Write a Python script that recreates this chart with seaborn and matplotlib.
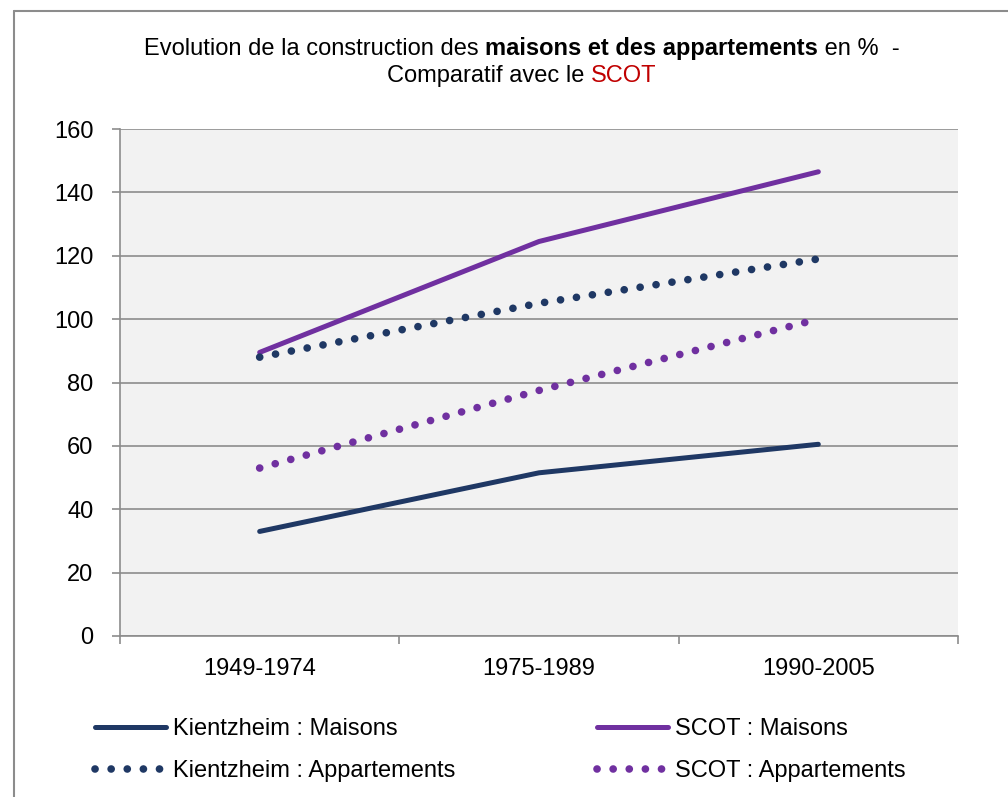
import seaborn as sns
import matplotlib.pyplot as plt
import pandas as pd
from matplotlib.lines import Line2D
from matplotlib.offsetbox import TextArea, HPacker, VPacker, AnchoredOffsetbox

# données
periodes = ['1949-1974', '1975-1989', '1990-2005']
kientzheim_maisons = [33, 51.5, 60.5]
scot_maisons = [89.5, 124.5, 146.5]
kientzheim_appartements = [88, 105, 119]
scot_appartements = [53, 77.5, 100]

series = {
    'Kientzheim : Maisons': kientzheim_maisons,
    'Kientzheim : Appartements': kientzheim_appartements,
    'SCOT : Maisons': scot_maisons,
    'SCOT : Appartements': scot_appartements,
}
bleu = '#1F3864'
violet = '#7030A0'
styles = {
    'Kientzheim : Maisons': (bleu, 'solid', 3.6),
    'Kientzheim : Appartements': (bleu, (0, (0.01, 2.1)), 5.5),
    'SCOT : Maisons': (violet, 'solid', 3.6),
    'SCOT : Appartements': (violet, (0, (0.01, 2.1)), 5.5),
}

df = pd.DataFrame([(p, nom, v) for nom, vals in series.items() for p, v in zip(periodes, vals)],
                  columns=['periode', 'serie', 'valeur'])

sns.set_style('white')
plt.rcParams['font.family'] = ['Liberation Sans', 'DejaVu Sans']
plt.rcParams['text.color'] = 'black'
plt.rcParams['xtick.color'] = 'black'
plt.rcParams['ytick.color'] = 'black'

fig = plt.figure(figsize=(10.08, 7.97), dpi=100)
ax = fig.add_axes([120 / 1008, 1 - 636 / 797, 838 / 1008, 507 / 797])
ax.set_facecolor('#F2F2F2')

for nom in ['SCOT : Maisons', 'Kientzheim : Maisons', 'SCOT : Appartements', 'Kientzheim : Appartements']:
    c, ls, lw = styles[nom]
    sns.lineplot(data=df[df['serie'] == nom], x='periode', y='valeur', ax=ax,
                 color=c, linewidth=lw, linestyle=ls, sort=False, legend=False,
                 dash_capstyle='round', solid_capstyle='round', zorder=3)

ax.set_xlim(-0.5, 2.5)
ax.set_ylim(0, 160)
ax.set_yticks(range(0, 161, 20))
ax.set_xticks(range(len(periodes)))
ax.set_xticklabels(periodes)
ax.set_xticks([-0.5, 0.5, 1.5, 2.5], minor=True)
ax.set_xlabel('')
ax.set_ylabel('')
ax.grid(axis='y', color='#8C8C8C', linewidth=1.2, zorder=1)
ax.set_axisbelow(True)
for s in ['top', 'right']:
    ax.spines[s].set_visible(False)
for s in ['left', 'bottom']:
    ax.spines[s].set_color('#8C8C8C')
    ax.spines[s].set_linewidth(1.2)
ax.tick_params(axis='y', which='major', length=6, width=1.2, color='#8C8C8C', pad=13,
               labelsize=17, left=True)
ax.tick_params(axis='x', which='major', length=0, pad=16, labelsize=17)
ax.tick_params(axis='x', which='minor', length=6, width=1.2, color='#8C8C8C', bottom=True)

# titre avec parties en gras et en rouge
fs = 17
l1 = HPacker(children=[
    TextArea('Evolution de la construction des ', textprops=dict(fontsize=fs)),
    TextArea('maisons et des appartements', textprops=dict(fontsize=fs, fontweight='bold')),
    TextArea(' en %  -', textprops=dict(fontsize=fs)),
], align='baseline', pad=0, sep=0)
l2 = HPacker(children=[
    TextArea('Comparatif avec le ', textprops=dict(fontsize=fs)),
    TextArea('SCOT', textprops=dict(fontsize=fs, color='#C00000')),
], align='baseline', pad=0, sep=0)
titre = VPacker(children=[l1, l2], align='center', pad=0, sep=4)
ab = AnchoredOffsetbox(loc='center', child=titre, frameon=False,
                       bbox_to_anchor=(522 / 1008, 1 - 62 / 797), bbox_transform=fig.transFigure)
fig.add_artist(ab)

# légende
ordre = ['Kientzheim : Maisons', 'Kientzheim : Appartements', 'SCOT : Maisons', 'SCOT : Appartements']
handles = []
for nom in ordre:
    c, ls, lw = styles[nom]
    handles.append(Line2D([], [], color=c, linestyle=ls, linewidth=lw,
                          dash_capstyle='round', solid_capstyle='round'))
fig.legend(handles, ordre, ncol=2, loc='center', bbox_to_anchor=(500 / 1008, 1 - 750 / 797),
           frameon=False, fontsize=17, handlelength=3.0, handletextpad=0.3,
           columnspacing=6.0, labelspacing=0.85)

# cadre extérieur
fig.add_artist(Line2D([14 / 1008, 1], [1 - 11 / 797, 1 - 11 / 797], transform=fig.transFigure,
                      color='#8C8C8C', linewidth=1.5))
fig.add_artist(Line2D([14 / 1008, 14 / 1008], [0, 1 - 11 / 797], transform=fig.transFigure,
                      color='#8C8C8C', linewidth=1.5))

fig.savefig('out.png', dpi=100)
